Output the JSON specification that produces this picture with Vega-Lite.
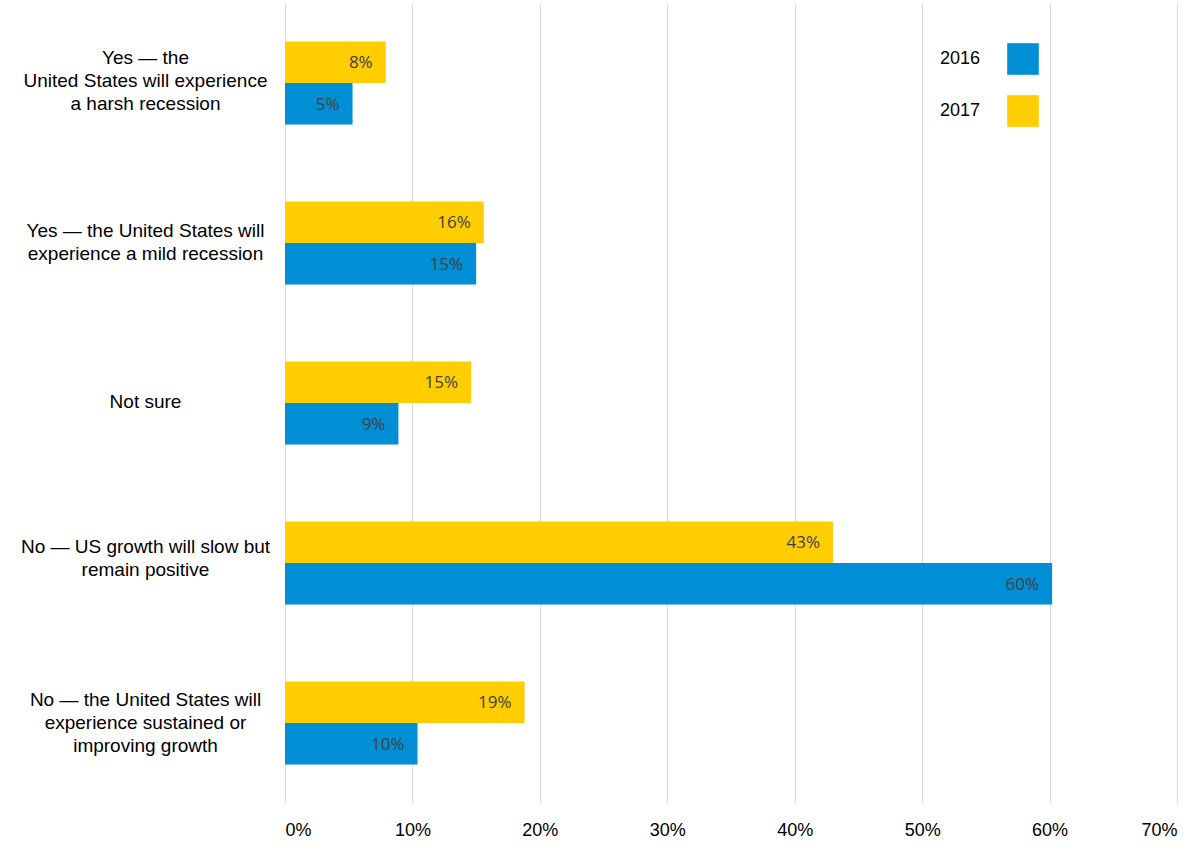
{
  "$schema": "https://vega.github.io/schema/vega-lite/v6.json",
  "autosize": {"type": "none"},
  "padding": {"left": 285, "top": 3, "right": 23, "bottom": 47},
  "width": 892,
  "height": 800,
  "background": "white",
  "config": {"view": {"stroke": null}},
  "data": {
    "values": [
      {"answer": "Yes — the|United States will experience|a harsh recession", "year": "2016", "value": 0.053},
      {"answer": "Yes — the|United States will experience|a harsh recession", "year": "2017", "value": 0.079},
      {"answer": "Yes — the United States will|experience a mild recession", "year": "2016", "value": 0.150},
      {"answer": "Yes — the United States will|experience a mild recession", "year": "2017", "value": 0.156},
      {"answer": "Not sure", "year": "2016", "value": 0.089},
      {"answer": "Not sure", "year": "2017", "value": 0.146},
      {"answer": "No — US growth will slow but|remain positive", "year": "2016", "value": 0.602},
      {"answer": "No — US growth will slow but|remain positive", "year": "2017", "value": 0.430},
      {"answer": "No — the United States will|experience sustained or|improving growth", "year": "2016", "value": 0.104},
      {"answer": "No — the United States will|experience sustained or|improving growth", "year": "2017", "value": 0.188}
    ]
  },
  "encoding": {
    "y": {
      "field": "answer",
      "type": "nominal",
      "sort": null,
      "title": null,
      "scale": {"paddingInner": 0.48, "paddingOuter": 0.24},
      "axis": {
        "domain": false,
        "ticks": false,
        "tickSize": 0,
        "labelAlign": "center",
        "labelBaseline": "middle",
        "labelPadding": 140,
        "labelLimit": 400,
        "labelFont": "Liberation Sans",
        "labelFontSize": 19,
        "labelColor": "#000000",
        "labelLineHeight": 23,
        "labelExpr": "split(datum.label, '|')",
        "labelOffset": {
          "condition": [
            {"test": "indexof(datum.label, 'harsh') >= 0", "value": -25},
            {"test": "indexof(datum.label, 'mild') >= 0", "value": -12},
            {"test": "indexof(datum.label, 'slow') >= 0", "value": -16},
            {"test": "indexof(datum.label, 'improving') >= 0", "value": -23}
          ],
          "value": -1
        }
      }
    },
    "yOffset": {
      "field": "year",
      "type": "nominal",
      "sort": ["2017", "2016"],
      "scale": {"paddingInner": 0, "paddingOuter": 0}
    },
    "x": {
      "field": "value",
      "type": "quantitative",
      "title": null,
      "scale": {"domain": [0, 0.7], "nice": false},
      "axis": {
        "format": ".0%",
        "values": [0, 0.1, 0.2, 0.3, 0.4, 0.5, 0.6, 0.7],
        "domain": false,
        "ticks": false,
        "tickSize": 0,
        "labelPadding": 18,
        "labelFont": "Liberation Sans",
        "labelFontSize": 18,
        "labelColor": "#000000",
        "grid": true,
        "gridColor": "#d9d9d9",
        "gridWidth": 1
      }
    }
  },
  "layer": [
    {
      "mark": {"type": "bar"},
      "encoding": {
        "color": {
          "field": "year",
          "type": "nominal",
          "scale": {"domain": ["2016", "2017"], "range": ["#008FD5", "#FFCD00"]},
          "legend": {
            "title": null,
            "orient": "none",
            "legendX": 722,
            "legendY": 40,
            "padding": 0,
            "symbolType": "square",
            "symbolSize": 1000,
            "symbolStrokeWidth": 0,
            "rowPadding": 20,
            "labelAlign": "right",
            "labelOffset": -59,
            "labelFont": "Liberation Sans",
            "labelFontSize": 18,
            "labelColor": "#000000"
          }
        }
      }
    },
    {
      "mark": {"type": "text", "align": "right", "baseline": "middle", "dx": -13, "dy": 1, "font": "Open Sans", "fontSize": 17, "color": "#404040"},
      "encoding": {
        "text": {"field": "value", "type": "quantitative", "format": ".0%"}
      }
    }
  ]
}
